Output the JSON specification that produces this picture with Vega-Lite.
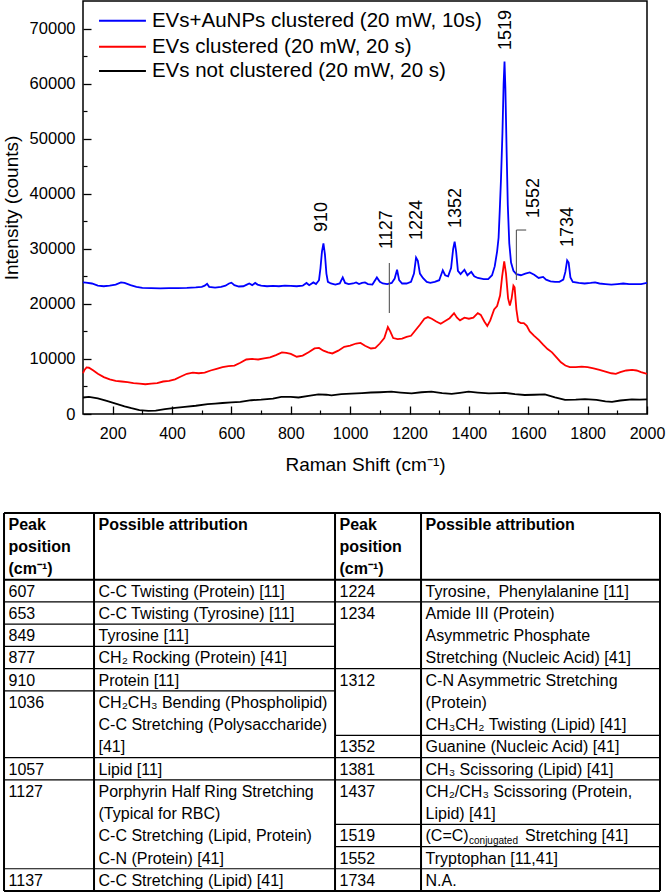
{
  "$schema": "https://vega.github.io/schema/vega-lite/v6.json",
  "padding": {"left": 1, "top": 0, "right": 0, "bottom": 0},
  "spacing": 37,
  "config": {
    "font": "Liberation Sans",
    "view": {"stroke": "#000", "strokeWidth": 1.5},
    "axis": {"labelFont": "Liberation Sans", "titleFont": "Liberation Sans", "labelColor": "#000", "titleColor": "#000", "tickColor": "#000", "domain": false, "grid": false, "titleFontWeight": "normal"},
    "text": {"font": "Liberation Sans", "color": "#000"}
  },
  "datasets": {
    "spectra": [
      {"s":"a","wn":100,"I":23900},{"s":"a","wn":110,"I":23850},{"s":"a","wn":130,"I":23700},{"s":"a","wn":150,"I":23300},{"s":"a","wn":170,"I":23200},{"s":"a","wn":190,"I":23300},{"s":"a","wn":210,"I":23500},{"s":"a","wn":228,"I":23900},{"s":"a","wn":240,"I":23800},{"s":"a","wn":260,"I":23400},{"s":"a","wn":280,"I":23100},{"s":"a","wn":300,"I":22900},{"s":"a","wn":330,"I":22850},{"s":"a","wn":360,"I":22800},{"s":"a","wn":390,"I":22850},{"s":"a","wn":420,"I":22850},{"s":"a","wn":450,"I":22900},{"s":"a","wn":480,"I":23000},{"s":"a","wn":500,"I":23100},{"s":"a","wn":510,"I":23300},{"s":"a","wn":518,"I":23650},{"s":"a","wn":525,"I":23100},{"s":"a","wn":545,"I":22950},{"s":"a","wn":565,"I":23100},{"s":"a","wn":580,"I":23300},{"s":"a","wn":592,"I":23700},{"s":"a","wn":600,"I":23850},{"s":"a","wn":610,"I":23400},{"s":"a","wn":625,"I":23150},{"s":"a","wn":640,"I":23200},{"s":"a","wn":652,"I":23500},{"s":"a","wn":660,"I":23700},{"s":"a","wn":670,"I":23400},{"s":"a","wn":680,"I":23800},{"s":"a","wn":688,"I":23500},{"s":"a","wn":700,"I":23300},{"s":"a","wn":720,"I":23200},{"s":"a","wn":740,"I":23250},{"s":"a","wn":760,"I":23200},{"s":"a","wn":780,"I":23300},{"s":"a","wn":800,"I":23250},{"s":"a","wn":820,"I":23200},{"s":"a","wn":840,"I":23300},{"s":"a","wn":853,"I":23800},{"s":"a","wn":862,"I":23400},{"s":"a","wn":876,"I":23900},{"s":"a","wn":885,"I":23600},{"s":"a","wn":895,"I":24300},{"s":"a","wn":900,"I":26500},{"s":"a","wn":905,"I":29500},{"s":"a","wn":910,"I":31000},{"s":"a","wn":915,"I":29000},{"s":"a","wn":920,"I":25500},{"s":"a","wn":925,"I":24000},{"s":"a","wn":935,"I":23700},{"s":"a","wn":950,"I":23500},{"s":"a","wn":965,"I":23700},{"s":"a","wn":975,"I":24800},{"s":"a","wn":983,"I":23800},{"s":"a","wn":995,"I":23600},{"s":"a","wn":1010,"I":23700},{"s":"a","wn":1020,"I":23900},{"s":"a","wn":1030,"I":23600},{"s":"a","wn":1040,"I":23800},{"s":"a","wn":1050,"I":23900},{"s":"a","wn":1060,"I":23600},{"s":"a","wn":1075,"I":23500},{"s":"a","wn":1090,"I":24800},{"s":"a","wn":1100,"I":24000},{"s":"a","wn":1110,"I":23700},{"s":"a","wn":1125,"I":23600},{"s":"a","wn":1140,"I":23800},{"s":"a","wn":1150,"I":24600},{"s":"a","wn":1158,"I":26200},{"s":"a","wn":1165,"I":24300},{"s":"a","wn":1175,"I":23700},{"s":"a","wn":1190,"I":23700},{"s":"a","wn":1205,"I":24000},{"s":"a","wn":1215,"I":25500},{"s":"a","wn":1222,"I":28400},{"s":"a","wn":1228,"I":27800},{"s":"a","wn":1235,"I":25500},{"s":"a","wn":1245,"I":24700},{"s":"a","wn":1258,"I":24000},{"s":"a","wn":1270,"I":23800},{"s":"a","wn":1285,"I":24000},{"s":"a","wn":1300,"I":24300},{"s":"a","wn":1312,"I":26100},{"s":"a","wn":1320,"I":25200},{"s":"a","wn":1330,"I":25000},{"s":"a","wn":1340,"I":26500},{"s":"a","wn":1347,"I":30000},{"s":"a","wn":1352,"I":31300},{"s":"a","wn":1357,"I":29500},{"s":"a","wn":1363,"I":26000},{"s":"a","wn":1372,"I":25400},{"s":"a","wn":1385,"I":26200},{"s":"a","wn":1395,"I":25200},{"s":"a","wn":1408,"I":25800},{"s":"a","wn":1418,"I":25000},{"s":"a","wn":1430,"I":24700},{"s":"a","wn":1450,"I":24500},{"s":"a","wn":1465,"I":24500},{"s":"a","wn":1478,"I":25200},{"s":"a","wn":1487,"I":26800},{"s":"a","wn":1495,"I":29500},{"s":"a","wn":1500,"I":32000},{"s":"a","wn":1504,"I":37000},{"s":"a","wn":1508,"I":42500},{"s":"a","wn":1513,"I":51000},{"s":"a","wn":1517,"I":60000},{"s":"a","wn":1520,"I":64000},{"s":"a","wn":1523,"I":59000},{"s":"a","wn":1527,"I":48000},{"s":"a","wn":1531,"I":38000},{"s":"a","wn":1536,"I":31000},{"s":"a","wn":1542,"I":27500},{"s":"a","wn":1550,"I":26000},{"s":"a","wn":1560,"I":25400},{"s":"a","wn":1575,"I":25200},{"s":"a","wn":1590,"I":25500},{"s":"a","wn":1605,"I":25700},{"s":"a","wn":1620,"I":25300},{"s":"a","wn":1635,"I":24700},{"s":"a","wn":1650,"I":24900},{"s":"a","wn":1660,"I":24400},{"s":"a","wn":1675,"I":24100},{"s":"a","wn":1690,"I":24000},{"s":"a","wn":1705,"I":24000},{"s":"a","wn":1718,"I":24400},{"s":"a","wn":1725,"I":25800},{"s":"a","wn":1731,"I":27900},{"s":"a","wn":1736,"I":27500},{"s":"a","wn":1742,"I":24800},{"s":"a","wn":1750,"I":24000},{"s":"a","wn":1770,"I":23800},{"s":"a","wn":1790,"I":23700},{"s":"a","wn":1810,"I":23800},{"s":"a","wn":1825,"I":23900},{"s":"a","wn":1840,"I":23700},{"s":"a","wn":1860,"I":23600},{"s":"a","wn":1880,"I":23500},{"s":"a","wn":1900,"I":23600},{"s":"a","wn":1920,"I":23700},{"s":"a","wn":1940,"I":23600},{"s":"a","wn":1960,"I":23600},{"s":"a","wn":1980,"I":23600},{"s":"a","wn":2000,"I":23800},
      {"s":"b","wn":100,"I":7400},{"s":"b","wn":105,"I":8000},{"s":"b","wn":112,"I":8450},{"s":"b","wn":120,"I":8400},{"s":"b","wn":135,"I":7900},{"s":"b","wn":150,"I":7300},{"s":"b","wn":170,"I":6700},{"s":"b","wn":190,"I":6300},{"s":"b","wn":210,"I":6000},{"s":"b","wn":230,"I":5900},{"s":"b","wn":250,"I":5800},{"s":"b","wn":270,"I":5600},{"s":"b","wn":290,"I":5500},{"s":"b","wn":310,"I":5400},{"s":"b","wn":330,"I":5500},{"s":"b","wn":350,"I":5600},{"s":"b","wn":370,"I":5900},{"s":"b","wn":390,"I":6000},{"s":"b","wn":410,"I":6300},{"s":"b","wn":430,"I":6800},{"s":"b","wn":450,"I":7300},{"s":"b","wn":470,"I":7500},{"s":"b","wn":490,"I":7400},{"s":"b","wn":510,"I":7500},{"s":"b","wn":530,"I":7900},{"s":"b","wn":550,"I":8200},{"s":"b","wn":570,"I":8500},{"s":"b","wn":590,"I":8700},{"s":"b","wn":610,"I":8800},{"s":"b","wn":630,"I":9300},{"s":"b","wn":650,"I":9900},{"s":"b","wn":670,"I":10000},{"s":"b","wn":690,"I":9900},{"s":"b","wn":710,"I":10100},{"s":"b","wn":730,"I":10300},{"s":"b","wn":750,"I":10700},{"s":"b","wn":770,"I":11200},{"s":"b","wn":785,"I":11100},{"s":"b","wn":800,"I":10900},{"s":"b","wn":820,"I":10400},{"s":"b","wn":840,"I":10600},{"s":"b","wn":860,"I":11200},{"s":"b","wn":880,"I":11900},{"s":"b","wn":895,"I":12000},{"s":"b","wn":910,"I":11500},{"s":"b","wn":925,"I":11200},{"s":"b","wn":940,"I":11000},{"s":"b","wn":960,"I":11500},{"s":"b","wn":980,"I":12200},{"s":"b","wn":1000,"I":12400},{"s":"b","wn":1020,"I":12800},{"s":"b","wn":1035,"I":12900},{"s":"b","wn":1050,"I":12400},{"s":"b","wn":1070,"I":11900},{"s":"b","wn":1085,"I":12000},{"s":"b","wn":1100,"I":12800},{"s":"b","wn":1115,"I":13800},{"s":"b","wn":1127,"I":15800},{"s":"b","wn":1135,"I":15000},{"s":"b","wn":1145,"I":13800},{"s":"b","wn":1160,"I":13600},{"s":"b","wn":1175,"I":13700},{"s":"b","wn":1190,"I":14000},{"s":"b","wn":1205,"I":14200},{"s":"b","wn":1220,"I":15200},{"s":"b","wn":1235,"I":16200},{"s":"b","wn":1250,"I":17300},{"s":"b","wn":1262,"I":17600},{"s":"b","wn":1275,"I":17300},{"s":"b","wn":1290,"I":16800},{"s":"b","wn":1305,"I":16400},{"s":"b","wn":1320,"I":16900},{"s":"b","wn":1335,"I":17400},{"s":"b","wn":1350,"I":18300},{"s":"b","wn":1360,"I":17500},{"s":"b","wn":1370,"I":17000},{"s":"b","wn":1385,"I":17500},{"s":"b","wn":1400,"I":17300},{"s":"b","wn":1415,"I":17500},{"s":"b","wn":1430,"I":18300},{"s":"b","wn":1440,"I":18000},{"s":"b","wn":1452,"I":16800},{"s":"b","wn":1462,"I":16000},{"s":"b","wn":1472,"I":17000},{"s":"b","wn":1485,"I":19000},{"s":"b","wn":1495,"I":19600},{"s":"b","wn":1505,"I":21500},{"s":"b","wn":1512,"I":25000},{"s":"b","wn":1519,"I":27700},{"s":"b","wn":1525,"I":25500},{"s":"b","wn":1532,"I":21000},{"s":"b","wn":1538,"I":19700},{"s":"b","wn":1544,"I":21000},{"s":"b","wn":1550,"I":23300},{"s":"b","wn":1554,"I":23000},{"s":"b","wn":1560,"I":19000},{"s":"b","wn":1566,"I":16800},{"s":"b","wn":1575,"I":16500},{"s":"b","wn":1585,"I":16500},{"s":"b","wn":1595,"I":16000},{"s":"b","wn":1605,"I":15000},{"s":"b","wn":1620,"I":14200},{"s":"b","wn":1636,"I":13400},{"s":"b","wn":1650,"I":12600},{"s":"b","wn":1665,"I":11800},{"s":"b","wn":1680,"I":11200},{"s":"b","wn":1695,"I":10300},{"s":"b","wn":1710,"I":9400},{"s":"b","wn":1725,"I":8800},{"s":"b","wn":1740,"I":8500},{"s":"b","wn":1760,"I":8500},{"s":"b","wn":1780,"I":8600},{"s":"b","wn":1800,"I":8500},{"s":"b","wn":1820,"I":8300},{"s":"b","wn":1840,"I":8000},{"s":"b","wn":1860,"I":7700},{"s":"b","wn":1880,"I":7400},{"s":"b","wn":1895,"I":7300},{"s":"b","wn":1910,"I":7600},{"s":"b","wn":1930,"I":7900},{"s":"b","wn":1950,"I":8000},{"s":"b","wn":1965,"I":7900},{"s":"b","wn":1980,"I":7600},{"s":"b","wn":2000,"I":7300},
      {"s":"c","wn":100,"I":3000},{"s":"c","wn":120,"I":3100},{"s":"c","wn":150,"I":2850},{"s":"c","wn":180,"I":2400},{"s":"c","wn":210,"I":1900},{"s":"c","wn":240,"I":1400},{"s":"c","wn":263,"I":1050},{"s":"c","wn":290,"I":700},{"s":"c","wn":320,"I":550},{"s":"c","wn":345,"I":600},{"s":"c","wn":376,"I":900},{"s":"c","wn":410,"I":1100},{"s":"c","wn":443,"I":1300},{"s":"c","wn":480,"I":1500},{"s":"c","wn":520,"I":1800},{"s":"c","wn":545,"I":1900},{"s":"c","wn":570,"I":2000},{"s":"c","wn":600,"I":2100},{"s":"c","wn":630,"I":2200},{"s":"c","wn":667,"I":2500},{"s":"c","wn":700,"I":2600},{"s":"c","wn":740,"I":2800},{"s":"c","wn":768,"I":3100},{"s":"c","wn":800,"I":3100},{"s":"c","wn":826,"I":3000},{"s":"c","wn":860,"I":3300},{"s":"c","wn":893,"I":3550},{"s":"c","wn":920,"I":3500},{"s":"c","wn":937,"I":3400},{"s":"c","wn":970,"I":3600},{"s":"c","wn":1004,"I":3700},{"s":"c","wn":1040,"I":3800},{"s":"c","wn":1070,"I":3900},{"s":"c","wn":1100,"I":3950},{"s":"c","wn":1139,"I":4050},{"s":"c","wn":1170,"I":3900},{"s":"c","wn":1207,"I":3750},{"s":"c","wn":1240,"I":3950},{"s":"c","wn":1274,"I":4050},{"s":"c","wn":1310,"I":3800},{"s":"c","wn":1342,"I":3650},{"s":"c","wn":1370,"I":3850},{"s":"c","wn":1399,"I":4050},{"s":"c","wn":1430,"I":3900},{"s":"c","wn":1467,"I":3750},{"s":"c","wn":1500,"I":3800},{"s":"c","wn":1521,"I":3850},{"s":"c","wn":1555,"I":3600},{"s":"c","wn":1588,"I":3450},{"s":"c","wn":1620,"I":3500},{"s":"c","wn":1656,"I":3550},{"s":"c","wn":1690,"I":3000},{"s":"c","wn":1724,"I":2550},{"s":"c","wn":1760,"I":2600},{"s":"c","wn":1791,"I":2700},{"s":"c","wn":1830,"I":2550},{"s":"c","wn":1860,"I":2300},{"s":"c","wn":1882,"I":2200},{"s":"c","wn":1910,"I":2450},{"s":"c","wn":1949,"I":2650},{"s":"c","wn":1975,"I":2600},{"s":"c","wn":2000,"I":2650}
    ],
    "legend": [
      {"s":"a","label":"EVs+AuNPs clustered (20 mW, 10s)","x1":154,"x2":312,"y":71420},
      {"s":"b","label":"EVs clustered (20 mW, 20 s)","x1":154,"x2":312,"y":66700},
      {"s":"c","label":"EVs not clustered (20 mW, 20 s)","x1":154,"x2":312,"y":62290}
    ],
    "peaks": [
      {"lab":"910","wn":906,"y":33050},{"lab":"1127","wn":1125,"y":29960},{"lab":"1224","wn":1226,"y":31600},{"lab":"1352","wn":1357,"y":33780},{"lab":"1519","wn":1526,"y":66100},{"lab":"1552","wn":1620,"y":35600},{"lab":"1734","wn":1735,"y":30330}
    ],
    "leaders": [
      {"x":1132,"x2":1132,"y":18340,"y2":27420},
      {"x":1560,"x2":1560,"y":24330,"y2":33410},
      {"x":1560,"x2":1593,"y":33410,"y2":33410}
    ],
    "cols": [{"c":1,"x0":0},{"c":2,"x0":13.72},{"c":3,"x0":50.46},{"c":4,"x0":63.57}],
    "cells": [
      {"c":1,"ln":0,"t":"Peak"},{"c":1,"ln":1,"t":"position"},{"c":1,"ln":2,"t":"(cm⁻¹)"},{"c":2,"ln":0,"t":"Possible attribution"},
      {"c":3,"ln":0,"t":"Peak"},{"c":3,"ln":1,"t":"position"},{"c":3,"ln":2,"t":"(cm⁻¹)"},{"c":4,"ln":0,"t":"Possible attribution"},
      {"c":1,"ln":3,"t":"607"},{"c":2,"ln":3,"t":"C-C Twisting (Protein) [11]"},
      {"c":1,"ln":4,"t":"653"},{"c":2,"ln":4,"t":"C-C Twisting (Tyrosine) [11]"},
      {"c":1,"ln":5,"t":"849"},{"c":2,"ln":5,"t":"Tyrosine [11]"},
      {"c":1,"ln":6,"t":"877"},{"c":2,"ln":6,"t":"CH₂ Rocking (Protein) [41]"},
      {"c":1,"ln":7,"t":"910"},{"c":2,"ln":7,"t":"Protein [11]"},
      {"c":1,"ln":8,"t":"1036"},{"c":2,"ln":8,"t":"CH₂CH₃ Bending (Phospholipid)"},{"c":2,"ln":9,"t":"C-C Stretching (Polysaccharide)"},{"c":2,"ln":10,"t":"[41]"},
      {"c":1,"ln":11,"t":"1057"},{"c":2,"ln":11,"t":"Lipid [11]"},
      {"c":1,"ln":12,"t":"1127"},{"c":2,"ln":12,"t":"Porphyrin Half Ring Stretching"},{"c":2,"ln":13,"t":"(Typical for RBC)"},{"c":2,"ln":14,"t":"C-C Stretching (Lipid, Protein)"},{"c":2,"ln":15,"t":"C-N (Protein) [41]"},
      {"c":1,"ln":16,"t":"1137"},{"c":2,"ln":16,"t":"C-C Stretching (Lipid) [41]"},
      {"c":3,"ln":3,"t":"1224"},{"c":4,"ln":3,"t":"Tyrosine,\u2002Phenylalanine [11]"},
      {"c":3,"ln":4,"t":"1234"},{"c":4,"ln":4,"t":"Amide III (Protein)"},{"c":4,"ln":5,"t":"Asymmetric Phosphate"},{"c":4,"ln":6,"t":"Stretching (Nucleic Acid) [41]"},
      {"c":3,"ln":7,"t":"1312"},{"c":4,"ln":7,"t":"C-N Asymmetric Stretching"},{"c":4,"ln":8,"t":"(Protein)"},{"c":4,"ln":9,"t":"CH₃CH₂ Twisting (Lipid) [41]"},
      {"c":3,"ln":10,"t":"1352"},{"c":4,"ln":10,"t":"Guanine (Nucleic Acid) [41]"},
      {"c":3,"ln":11,"t":"1381"},{"c":4,"ln":11,"t":"CH₃ Scissoring (Lipid) [41]"},
      {"c":3,"ln":12,"t":"1437"},{"c":4,"ln":12,"t":"CH₂/CH₃ Scissoring (Protein,"},{"c":4,"ln":13,"t":"Lipid) [41]"},
      {"c":3,"ln":14,"t":"1519"},{"c":4,"ln":14,"t":"(C=C)"},
      {"c":3,"ln":15,"t":"1552"},{"c":4,"ln":15,"t":"Tryptophan [11,41]"},
      {"c":3,"ln":16,"t":"1734"},{"c":4,"ln":16,"t":"\u2005N.A."}
    ],
    "pieces": [
      {"c":4,"ln":14,"t":"conjugated","k":"sub"},
      {"c":4,"ln":14,"t":"Stretching [41]","k":"after"}
    ],
    "grid": [
      {"x0":0,"x1":100,"y0":0,"y1":0,"r":"frame"},
      {"x0":0,"x1":100,"y0":17,"y1":17,"r":"frame"},
      {"x0":0,"x1":100,"y0":3,"y1":3,"r":"frame"},
      {"x0":0,"x1":0,"y0":0,"y1":17,"r":"frame"},
      {"x0":13.72,"x1":13.72,"y0":0,"y1":17,"r":"frame"},
      {"x0":50.46,"x1":50.46,"y0":0,"y1":17,"r":"frame"},
      {"x0":63.57,"x1":63.57,"y0":0,"y1":17,"r":"frame"},
      {"x0":100,"x1":100,"y0":0,"y1":17,"r":"frame"},
      {"x0":0,"x1":50.46,"y0":4,"y1":4,"r":"row"},
      {"x0":0,"x1":50.46,"y0":5,"y1":5,"r":"row"},
      {"x0":0,"x1":50.46,"y0":6,"y1":6,"r":"row"},
      {"x0":0,"x1":50.46,"y0":7,"y1":7,"r":"row"},
      {"x0":0,"x1":50.46,"y0":8,"y1":8,"r":"row"},
      {"x0":0,"x1":50.46,"y0":11,"y1":11,"r":"row"},
      {"x0":0,"x1":50.46,"y0":12,"y1":12,"r":"row"},
      {"x0":0,"x1":50.46,"y0":16,"y1":16,"r":"row"},
      {"x0":50.46,"x1":100,"y0":4,"y1":4,"r":"row"},
      {"x0":50.46,"x1":100,"y0":7,"y1":7,"r":"row"},
      {"x0":50.46,"x1":100,"y0":10,"y1":10,"r":"row"},
      {"x0":50.46,"x1":100,"y0":11,"y1":11,"r":"row"},
      {"x0":50.46,"x1":100,"y0":12,"y1":12,"r":"row"},
      {"x0":50.46,"x1":100,"y0":14,"y1":14,"r":"row"},
      {"x0":50.46,"x1":100,"y0":15,"y1":15,"r":"row"},
      {"x0":50.46,"x1":100,"y0":16,"y1":16,"r":"row"}
    ]
  },
  "vconcat": [
    {
      "width": 564,
      "height": 413,
      "resolve": {"axis": {"x": "independent", "y": "independent"}},
      "layer": [
        {
          "data": {"name": "spectra"},
          "mark": {"type": "line", "strokeWidth": 1.8},
          "encoding": {
            "x": {"field": "wn", "type": "quantitative",
                  "scale": {"domain": [100, 2000], "nice": false, "zero": false},
                  "axis": {"orient": "bottom", "values": [200,400,600,800,1000,1200,1400,1600,1800,2000], "format": "d", "tickSize": -8, "tickWidth": 1.3, "labelFontSize": 16, "labelPadding": 19, "labelFlush": false, "labelOverlap": false, "labelBound": false, "title": "Raman Shift (cm⁻¹)", "titleFontSize": 19, "titlePadding": 14}},
            "y": {"field": "I", "type": "quantitative",
                  "scale": {"domain": [0, 75000], "nice": false},
                  "axis": {"orient": "left", "values": [0,10000,20000,30000,40000,50000,60000,70000], "format": "d", "tickSize": -8, "tickWidth": 1.3, "labelFontSize": 16.5, "labelPadding": 16, "labelOverlap": false, "title": "Intensity (counts)", "titleFontSize": 19, "titlePadding": 8}},
            "color": {"field": "s", "type": "nominal", "scale": {"domain": ["a","b","c"], "range": ["#0000ff","#ff0000","#000000"]}, "legend": null}
          }
        },
        {
          "data": {"name": "leaders"},
          "mark": {"type": "rule", "color": "#555555", "strokeWidth": 1.1},
          "encoding": {
            "x": {"field": "x", "type": "quantitative",
                  "axis": {"orient": "bottom", "values": [300,500,700,900,1100,1300,1500,1700,1900], "labels": false, "tickSize": -4, "tickWidth": 1.2, "title": null}},
            "x2": {"field": "x2"},
            "y": {"field": "y", "type": "quantitative",
                  "axis": {"orient": "left", "values": [5000,15000,25000,35000,45000,55000,65000], "labels": false, "tickSize": -4, "tickWidth": 1.2, "title": null}},
            "y2": {"field": "y2"}
          }
        },
        {
          "data": {"name": "peaks"},
          "mark": {"type": "text", "angle": 270, "align": "left", "baseline": "middle", "fontSize": 18},
          "encoding": {
            "x": {"field": "wn", "type": "quantitative", "axis": null},
            "y": {"field": "y", "type": "quantitative", "axis": null},
            "text": {"field": "lab"}
          }
        },
        {
          "data": {"name": "legend"},
          "mark": {"type": "rule", "strokeWidth": 2},
          "encoding": {
            "x": {"field": "x1", "type": "quantitative", "axis": null},
            "x2": {"field": "x2"},
            "y": {"field": "y", "type": "quantitative", "axis": null},
            "color": {"field": "s", "type": "nominal", "legend": null}
          }
        },
        {
          "data": {"name": "legend"},
          "mark": {"type": "text", "align": "left", "baseline": "middle", "dx": 6, "fontSize": 20.5},
          "encoding": {
            "x": {"field": "x2", "type": "quantitative", "axis": null},
            "y": {"field": "y", "type": "quantitative", "axis": null},
            "text": {"field": "label"}
          }
        }
      ]
    },
    {
      "width": 577,
      "height": 378,
      "view": {"stroke": null},
      "layer": [
        {
          "data": {"name": "grid"},
          "mark": {"type": "rule", "color": "#000"},
          "encoding": {
            "x": {"field": "x0", "type": "quantitative", "scale": {"domain": [12.04, 100], "nice": false, "zero": false}, "axis": null},
            "x2": {"field": "x1"},
            "y": {"field": "y0", "type": "quantitative", "scale": {"domain": [0, 17], "reverse": true, "nice": false, "zero": false}, "axis": null},
            "y2": {"field": "y1"},
            "strokeWidth": {"condition": {"test": "datum.r === 'frame'", "value": 2}, "value": 1.2}
          }
        },
        {
          "data": {"name": "cells"},
          "transform": [{"filter": "datum.ln < 3"}, {"lookup": "c", "from": {"data": {"name": "cols"}, "key": "c", "fields": ["x0"]}}],
          "mark": {"type": "text", "align": "left", "baseline": "middle", "dx": 4.5, "dy": 12, "fontSize": 16, "fontWeight": "bold"},
          "encoding": {
            "x": {"field": "x0", "type": "quantitative", "axis": null},
            "y": {"field": "ln", "type": "quantitative", "axis": null},
            "text": {"field": "t"}
          }
        },
        {
          "data": {"name": "cells"},
          "transform": [{"filter": "datum.ln >= 3"}, {"lookup": "c", "from": {"data": {"name": "cols"}, "key": "c", "fields": ["x0"]}}],
          "mark": {"type": "text", "align": "left", "baseline": "middle", "dx": 4.5, "dy": 12, "fontSize": 16},
          "encoding": {
            "x": {"field": "x0", "type": "quantitative", "axis": null},
            "y": {"field": "ln", "type": "quantitative", "axis": null},
            "text": {"field": "t"}
          }
        },
        {
          "data": {"name": "pieces"},
          "transform": [{"filter": "datum.k === 'sub'"}, {"lookup": "c", "from": {"data": {"name": "cols"}, "key": "c", "fields": ["x0"]}}],
          "mark": {"type": "text", "align": "left", "baseline": "middle", "dx": 48, "dy": 17, "fontSize": 10},
          "encoding": {
            "x": {"field": "x0", "type": "quantitative", "axis": null},
            "y": {"field": "ln", "type": "quantitative", "axis": null},
            "text": {"field": "t"}
          }
        },
        {
          "data": {"name": "pieces"},
          "transform": [{"filter": "datum.k === 'after'"}, {"lookup": "c", "from": {"data": {"name": "cols"}, "key": "c", "fields": ["x0"]}}],
          "mark": {"type": "text", "align": "left", "baseline": "middle", "dx": 104, "dy": 12, "fontSize": 16},
          "encoding": {
            "x": {"field": "x0", "type": "quantitative", "axis": null},
            "y": {"field": "ln", "type": "quantitative", "axis": null},
            "text": {"field": "t"}
          }
        }
      ]
    }
  ]
}
